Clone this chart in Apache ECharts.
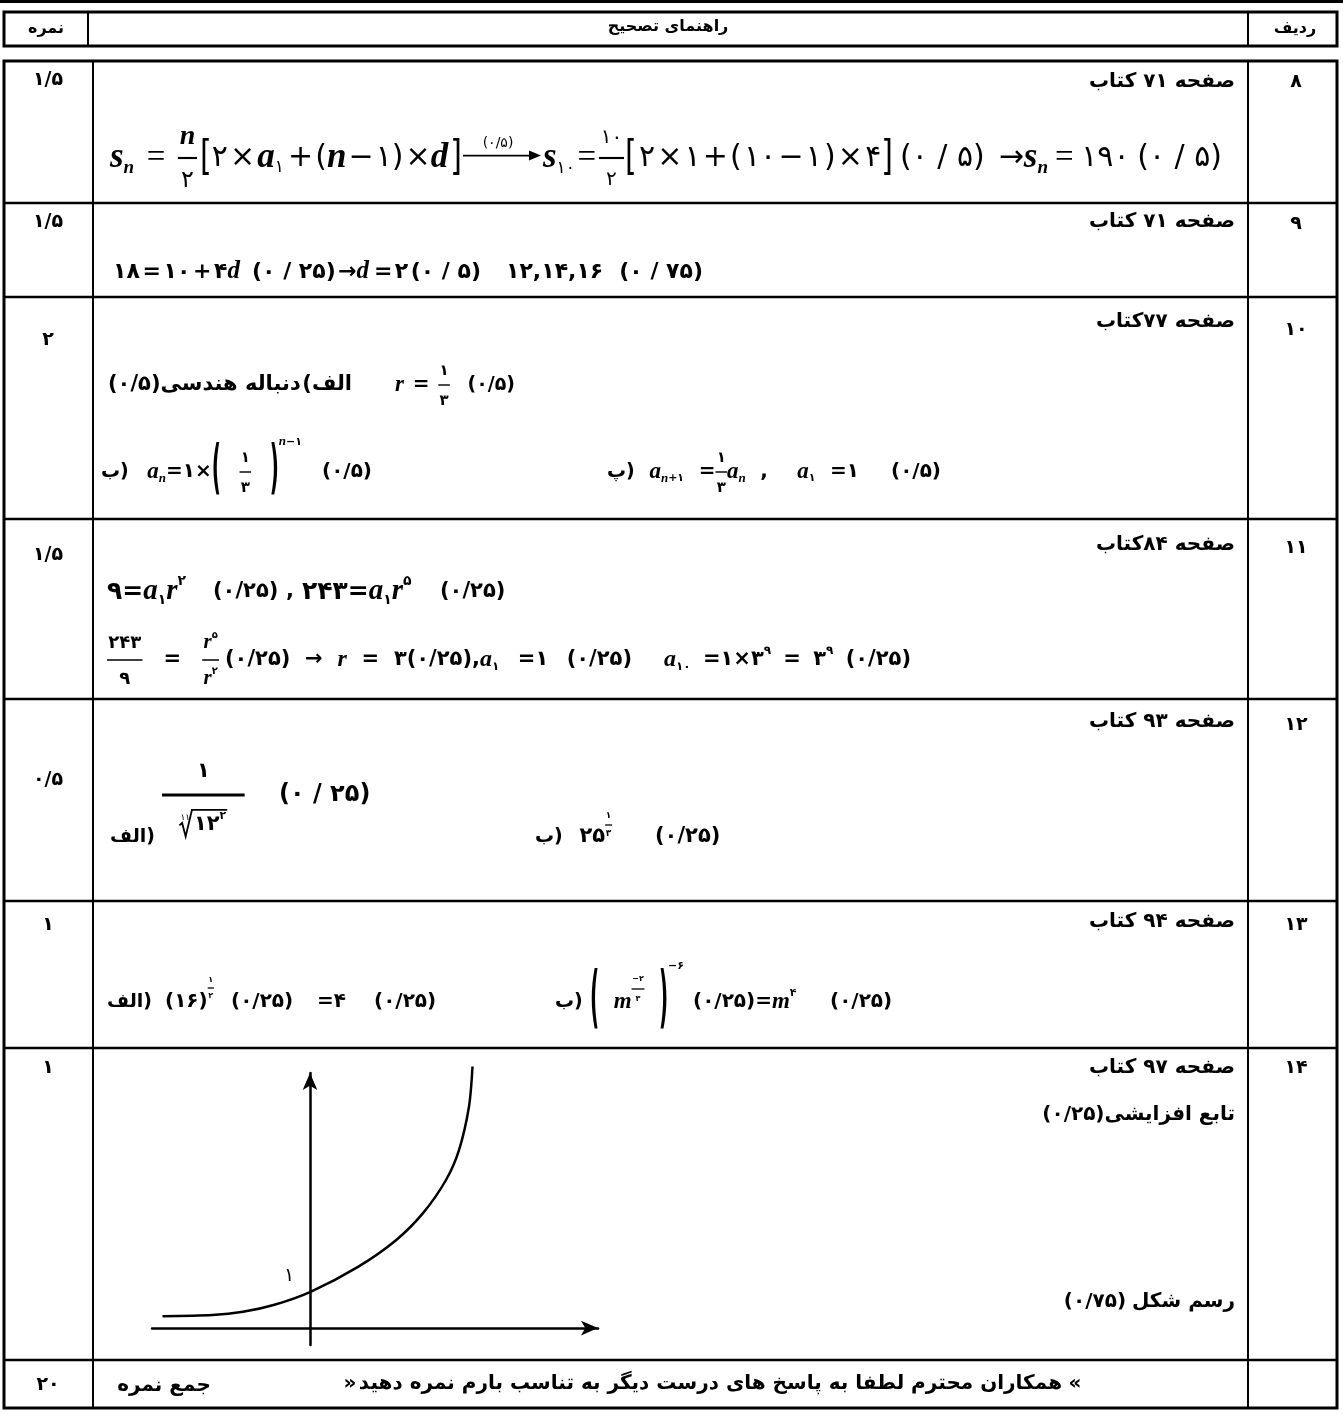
<!DOCTYPE html>
<html>
<head>
<meta charset="utf-8">
<script src="https://cdn.jsdelivr.net/npm/echarts@6/dist/echarts.min.js"></script>
<style>
  html, body { margin: 0; background: #fff; }
  #main { width: 1343px; height: 1417px; }
</style>
</head>
<body>
<div id="main"></div>
<script>
// ---- data ----
const rowNumbers = ['۸', '۹', '۱۰', '۱۱', '۱۲', '۱۳', '۱۴'];
const rowScores = ['۱/۵', '۱/۵', '۲', '۱/۵', '۰/۵', '۱', '۱'];
const totalScore = '۲۰';
const pageRefs = ['صفحه ۷۱ کتاب', 'صفحه ۷۱ کتاب', 'صفحه ۷۷کتاب', 'صفحه ۸۴کتاب', 'صفحه ۹۳ کتاب', 'صفحه ۹۴ کتاب', 'صفحه ۹۷ کتاب'];
// hand drawn increasing curve of question 14
const curveX = [-2.95, -1.95, -1.34, -0.73, 0, 0.96, 1.72, 2.26, 2.72, 2.98, 3.18, 3.25];
const curveY = [0.33, 0.36, 0.45, 0.64, 1.0, 1.70, 2.44, 3.19, 4.11, 4.94, 6.15, 7.26];

// ---- layout ----
const rowLines = [61, 203, 297, 519, 699, 901, 1048, 1360, 1408];
const scoreY = [80, 222, 340, 555, 780, 925, 1068];
const numY = [82, 224, 330, 548, 725, 925, 1068];
const refY = [82, 222, 322, 545, 722, 922, 1068];

const FAM = '"DejaVu Sans"';
const SER = '"Liberation Serif"';
const FA_SIZE = 19;
const mctx = document.createElement('canvas').getContext('2d');

function F(kind, sz, wt) {
  if (kind === 'i') return { fontStyle: 'italic', fontWeight: 'bold', fontSize: Math.round(sz * 1.15), fontFamily: SER };
  if (kind === 'op') return { fontStyle: 'normal', fontWeight: 'normal', fontSize: Math.round(sz * 1.1), fontFamily: SER };
  if (kind === 'fa') return { fontStyle: 'normal', fontWeight: 'bold', fontSize: Math.round(sz), fontFamily: FAM };
  return { fontStyle: 'normal', fontWeight: wt || 'normal', fontSize: Math.round(sz), fontFamily: FAM };
}
function measure(text, f) {
  mctx.font = f.fontStyle + ' ' + f.fontWeight + ' ' + f.fontSize + 'px ' + f.fontFamily;
  return mctx.measureText(text).width;
}
function txt(text, x, y, f, align, extra) {
  return Object.assign({
    type: 'text', x: x, y: y,
    style: Object.assign({
      text: text, fill: '#000',
      align: align || 'left', verticalAlign: 'middle',
      textAlign: align || 'left', textVerticalAlign: 'middle'
    }, f)
  }, extra || {});
}
function L(v) { return Array.isArray(v) ? v : [v]; }

function tbox(text, f, sy) {
  const w = measure(text, f);
  return { w: w, put(x, y, o) { o.push(txt(text, x, y, f, 'left', sy ? { scaleY: sy } : null)); } };
}
function box(it, sz, wt) {
  if (typeof it === 'number') return { w: 0, flex: it, put() {} };
  if (typeof it === 'string') return tbox(it, F('n', sz, wt));
  if (it.i) return tbox(it.i, F('i', sz));
  if (it.op) return tbox(it.op, F('op', sz));
  if (it.fa) return tbox(it.fa, F('fa', it.s || FA_SIZE));
  if (it.sp) return { w: it.sp, put() {} };
  if (it.sub || it.sup) {
    const r = row(L(it.sub || it.sup), sz * 0.55, wt);
    const dy = it.dy != null ? it.dy : (it.sub ? sz * 0.32 : -sz * 0.42);
    return { w: r.w, put(x, y, o) { r.put(x, y + dy, o); } };
  }
  if (it.big) return tbox(it.big, F('n', sz, wt), it.s);
  if (it.fr) {
    const fs = it.fs || 0.75;
    const a = row(L(it.fr[0]), sz * fs, wt), b = row(L(it.fr[1]), sz * fs, wt);
    const w = Math.max(a.w, b.w, it.minW || 0) + sz * 0.12;
    const up = it.up || sz * 0.55, dn = it.dn || sz * 0.55;
    return {
      w: w, put(x, y, o) {
        a.put(x + (w - a.w) / 2, y - up, o);
        b.put(x + (w - b.w) / 2, y + dn, o);
        o.push({ type: 'line', shape: { x1: x, y1: y, x2: x + w, y2: y }, style: { stroke: '#000', lineWidth: it.lw || Math.max(1.3, sz / 14) } });
      }
    };
  }
  if (it.arrow) {
    const w = it.arrow;
    return {
      w: w, put(x, y, o) {
        const ay = y - sz * 0.08;
        o.push({ type: 'line', shape: { x1: x, y1: ay, x2: x + w - 6, y2: ay }, style: { stroke: '#000', lineWidth: 1.8 } });
        o.push({ type: 'polygon', shape: { points: [[x + w, ay], [x + w - 12, ay - 5], [x + w - 12, ay + 5]] }, style: { fill: '#000' } });
        if (it.label) o.push(txt(it.label, x + w / 2 - 4, ay - sz * 0.42, F('n', sz * 0.45), 'center'));
      }
    };
  }
  if (it.root) {
    const body = row(L(it.root), sz, wt);
    const rw = sz * 0.6;
    const w = rw + body.w + 3;
    return {
      w: w, put(x, y, o) {
        const top = y - sz * 0.72;
        o.push({ type: 'polyline', shape: { points: [[x, y + sz * 0.02], [x + rw * 0.22, y - sz * 0.1], [x + rw * 0.5, y + sz * 0.55], [x + rw, top], [x + w, top]] }, style: { stroke: '#000', lineWidth: 1.8, fill: null } });
        if (it.idx) o.push(txt(it.idx, x + 1, y - sz * 0.34, F('n', sz * 0.42), 'left'));
        body.put(x + rw + 2, y, o);
      }
    };
  }
  return { w: 0, put() {} };
}
function row(items, sz, wt, target) {
  const bs = items.map(it => box(it, sz, wt));
  const nat = bs.reduce((s, b) => s + b.w, 0);
  const fl = bs.reduce((s, b) => s + (b.flex || 0), 0);
  const extra = target ? target - nat : 0;
  bs.forEach(b => { if (b.flex) b.w = extra > 0 && fl ? extra * b.flex / fl : 1; });
  const tot = bs.reduce((s, b) => s + b.w, 0);
  return { w: tot, put(x, y, o) { let cx = x; bs.forEach(b => { b.put(cx, y, o); cx += b.w; }); } };
}

const els = [];
// one piece of a formula, spread between x0 and x1 by its flexible gaps
function seg(items, x0, x1, y, sz, wt) {
  row(items, sz, wt, x1 ? x1 - x0 : 0).put(x0, y, els);
}
function hline(x1, x2, y, lw) { els.push({ type: 'line', shape: { x1: x1, y1: y, x2: x2, y2: y }, style: { stroke: '#000', lineWidth: lw } }); }
function vline(x, y1, y2, lw) { els.push({ type: 'line', shape: { x1: x, y1: y1, x2: x, y2: y2 }, style: { stroke: '#000', lineWidth: lw } }); }

// ---- table frame ----
hline(0, 1343, 1.5, 3);
els.push({ type: 'rect', shape: { x: 4, y: 12, width: 1333, height: 34 }, style: { fill: null, stroke: '#000', lineWidth: 3 } });
vline(88, 12, 46, 2);
vline(1248, 12, 46, 2);
els.push({ type: 'rect', shape: { x: 4, y: 61, width: 1333, height: 1347 }, style: { fill: null, stroke: '#000', lineWidth: 3 } });
vline(93, 61, 1408, 2);
vline(1248, 61, 1408, 2);
for (let i = 1; i < rowLines.length - 1; i++) hline(4, 1337, rowLines[i], 2.5);

const headF = F('fa', 16);
els.push(txt('نمره', 46, 29, headF, 'center'));
els.push(txt('راهنمای تصحیح', 668, 27, headF, 'center'));
els.push(txt('ردیف', 1295, 29, headF, 'center'));

const refF = F('fa', 20);
rowNumbers.forEach((n, i) => {
  els.push(txt(n, 1296, numY[i], F('fa', 19), 'center'));
  els.push(txt(rowScores[i], 48, scoreY[i], F('fa', 19), 'center'));
  els.push(txt(pageRefs[i], 1235, refY[i], refF, 'right'));
});

// persian label followed (to its left) by a score in parentheses
function labelWithScore(label, score, y, gap) {
  els.push(txt(label, 1235, y, refF, 'right'));
  const w = measure(label, refF);
  els.push(txt(score, 1235 - w - gap, y, refF, 'right'));
}
labelWithScore('تابع افزایشی', '(۰/۲۵)', 1115, 0);
labelWithScore('رسم شکل', '(۰/۷۵)', 1302, 6);

// footer
els.push(txt(totalScore, 48, 1385, F('fa', 19), 'center'));
els.push(txt('جمع نمره', 164, 1386, refF, 'center'));
const note = 'همکاران محترم لطفا به پاسخ های درست دیگر به تناسب بارم نمره دهید';
els.push(txt('«', 1075, 1384, refF, 'center'));
els.push(txt(note, 1062, 1384, refF, 'right'));
els.push(txt('»', 1062 - measure(note, refF) - 9, 1384, refF, 'center'));

// ---- formulas ----
const TS = ' ';  // thin space
const P = s => '(' + s.split('/').join(TS + '/' + TS) + ')'; // spaced score like ( ۰ / ۵ )
// question 8
seg([{ i: 's' }, { sub: { i: 'n' } }, 1, { op: '=' }, 1, { fr: [{ i: 'n' }, '۲'], fs: 0.8, up: 21, dn: 23 }], 110, 197, 158, 30);
seg([{ big: '[', s: 1.35 }, '۲', 1, '×', 1, { i: 'a' }, { sub: '۱' }, 2, '+', 1, '(', { i: 'n' }, 1, '−', 1, '۱)', 1, '×', { i: 'd' }, 1, { big: ']', s: 1.35 }], 200, 462, 158, 30);
seg([{ arrow: 78, label: '(۰/۵)' }], 463, 541, 158, 30);
seg([{ i: 's' }, { sub: '۱۰', dy: 11 }, 1, { op: '=' }, 1, { fr: ['۱۰', '۲'], fs: 0.65, up: 20, dn: 22 }], 543, 624, 158, 30);
seg([{ big: '[', s: 1.35 }, 1, '۲', 1, '×', 1, '۱', 1, '+', 1, '(', 1, '۱۰', 1, '−', 1, '۱', 1, ')', 1, '×', 1, '۴', { big: ']', s: 1.35 }], 625, 893, 158, 30);
seg([P('۰/۵'), 1, '→', { i: 's' }, { sub: { i: 'n' } }], 900, 1048, 158, 30);
seg([{ op: '=' }, 1, '۱۹۰', 1, P('۰/۵')], 1055, 1222, 158, 30);

// question 9
seg(['۱۸', 1, '=', 1, '۱۰', 1, '+', 1, '۴', { i: 'd' }], 113, 240, 272, 22, 'bold');
seg([P('۰/۲۵'), 1, '→', { i: 'd' }, 2, '=', 1, '۲', 1, P('۰/۵')], 252, 481, 272, 22, 'bold');
seg(['۱۲,۱۴,۱۶', 1, P('۰/۷۵')], 506, 703, 272, 22, 'bold');

// question 10 (persian labels and their brackets are separate pieces so the brackets keep their place)
seg([{ fa: '(۰/۵)', s: 21 }, { fa: 'دنباله هندسی', s: 21 }, 1, { fa: '(', s: 21 }, { fa: 'الف', s: 21 }], 108, 352, 385, 20);
seg([{ i: 'r' }, 1, '=', 1, { fr: ['۱', '۳'], up: 14, dn: 16 }, 2, { fa: '(۰/۵)' }], 395, 515, 385, 20, 'bold');
seg([{ fa: 'ب' }, { fa: ')' }, 1, { i: 'a' }, { sub: { i: 'n' } }, '=۱×', { big: '(', s: 2.9 }, 1, { fr: ['۱', '۳'], up: 14, dn: 16 }, 1, { big: ')', s: 2.9 }, { sup: [{ i: 'n' }, '−۱'], dy: -30 }], 101, 302, 472, 20, 'bold');
seg(['(۰/۵)'], 322, 0, 472, 20, 'bold');
seg([{ fa: 'پ' }, { fa: ')' }, 1, { i: 'a' }, { sub: [{ i: 'n' }, '+۱'] }, 1, '=', { fr: ['۱', '۳'], up: 14, dn: 16 }, { i: 'a' }, { sub: { i: 'n' } }, 1, ',', 2, { i: 'a' }, { sub: '۱' }, 1, '=۱'], 607, 859, 472, 20, 'bold');
seg(['(۰/۵)'], 891, 0, 472, 20, 'bold');

// question 11
seg(['۹=', { i: 'a' }, { sub: '۱' }, { i: 'r' }, { sup: '۲' }], 107, 0, 592, 25, 'bold');
seg(['(۰/۲۵)'], 213, 0, 592, 21, 'bold');
seg([','], 286, 0, 592, 21, 'bold');
seg(['۲۴۳=', { i: 'a' }, { sub: '۱' }, { i: 'r' }, { sup: '۵' }], 302, 0, 592, 25, 'bold');
seg(['(۰/۲۵)'], 440, 0, 592, 21, 'bold');
seg([{ fr: ['۲۴۳', '۹'], fs: 0.85, up: 17, dn: 19 }, 1, '=', 1, { fr: [[{ i: 'r' }, { sup: '۵' }], [{ i: 'r' }, { sup: '۲' }]], fs: 0.85, up: 17, dn: 19 }], 107, 219, 660, 21, 'bold');
seg(['(۰/۲۵)', 1, '→', 1, { i: 'r' }, 1, '=', 1, '۳', '(۰/۲۵),'], 225, 480, 660, 21, 'bold');
seg([{ i: 'a' }, { sub: '۱' }, 1, '=۱', 1, '(۰/۲۵)'], 480, 632, 660, 21, 'bold');
seg([{ i: 'a' }, { sub: '۱۰' }, 1, '=۱×۳', { sup: '۹' }, 1, '=', 1, '۳', { sup: '۹' }, 1, '(۰/۲۵)'], 664, 911, 660, 21, 'bold');

// question 12
seg([{ fa: 'الف' }, { fa: ')' }], 110, 0, 837, 20);
seg([{ fr: ['۱', { root: ['۱۲', { sup: '۲' }], idx: '۱۱' }], fs: 0.95, up: 23, dn: 30, minW: 80, lw: 3 }], 162, 0, 795, 22, 'bold');
seg([P('۰/۲۵')], 279, 371, 795, 24, 'bold');
seg([{ fa: 'ب' }, { fa: ')' }, 1, '۲۵', { sup: { fr: ['۱', '۳'], up: 9, dn: 9 }, dy: -12 }], 535, 612, 837, 21, 'bold');
seg(['(۰/۲۵)'], 655, 0, 837, 21, 'bold');

// question 13
seg([{ fa: 'الف' }, { fa: ')' }], 107, 0, 1002, 20);
seg(['(۱۶)', { sup: { fr: ['۱', '۲'], up: 8, dn: 8 }, dy: -14 }], 165, 0, 1002, 20, 'bold');
seg(['(۰/۲۵)'], 231, 0, 1002, 20, 'bold');
seg(['=۴'], 317, 0, 1002, 20, 'bold');
seg(['(۰/۲۵)'], 374, 0, 1002, 20, 'bold');
seg([{ fa: 'ب' }, { fa: ')' }], 555, 0, 1002, 20);
seg([{ big: '(', s: 3.4 }, 1, { i: 'm' }, { sup: { fr: ['−۲', '۳'], up: 10, dn: 10 }, dy: -13 }, 1, { big: ')', s: 3.4 }, { sup: '−۶', dy: -36 }], 590, 684, 1002, 20, 'bold');
seg(['(۰/۲۵)=', { i: 'm' }, { sup: '۴' }], 693, 813, 1002, 20, 'bold');
seg(['(۰/۲۵)'], 830, 0, 1002, 20, 'bold');

// label "1" beside the y axis of the sketch
els.push(txt('۱', 289, 1276, F('n', 19), 'center'));

// ---- chart ----
const chart = echarts.init(document.getElementById('main'));
const axisCommon = {
  type: 'value',
  axisLine: { onZero: true, symbol: ['none', 'arrow'], symbolSize: [11, 17], lineStyle: { color: '#000', width: 2.5 } },
  axisTick: { show: false },
  axisLabel: { show: false },
  splitLine: { show: false }
};
chart.setOption({
  backgroundColor: '#fff',
  animation: false,
  grid: { left: 152, top: 1073, width: 446, height: 272 },
  xAxis: Object.assign({ min: -3.16, max: 5.76 }, axisCommon),
  yAxis: Object.assign({ min: -0.47, max: 7.08 }, axisCommon),
  series: [{
    type: 'line',
    data: curveX.map((x, i) => [x, curveY[i]]),
    smooth: 0.3,
    symbol: 'none',
    clip: false,
    lineStyle: { color: '#000', width: 2.5 }
  }],
  graphic: { elements: els }
});
window.addEventListener('resize', () => chart.resize());
</script>
</body>
</html>
